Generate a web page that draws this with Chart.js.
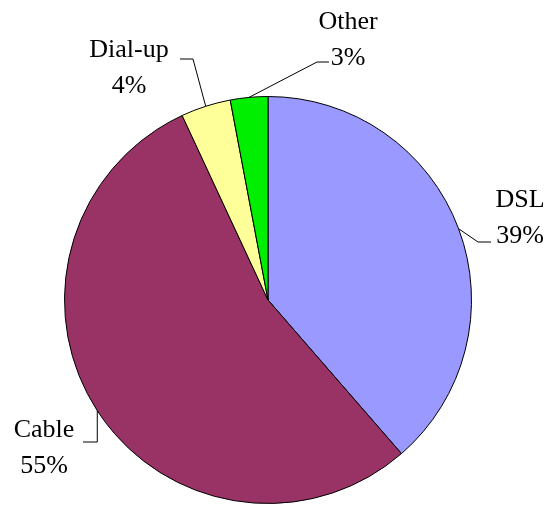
<!DOCTYPE html>
<html>
<head>
<meta charset="utf-8">
<script src="https://cdn.jsdelivr.net/npm/chart.js@4.4.0/dist/chart.umd.min.js"></script>
<style>
  html, body { margin: 0; padding: 0; background: #fff; }
  #wrap { width: 551px; height: 506px; }
</style>
</head>
<body>
<div id="wrap"><canvas id="share_chart" width="551" height="506"></canvas></div>
<script>
const categories = ['DSL', 'Cable', 'Dial-up', 'Other'];
const shares = [39, 55, 4, 3];
const sliceColors = ['#9999ff', '#993366', '#ffff99', '#00ee00'];

// where each callout text sits, and the bend of its leader line
const callouts = {
	'DSL':     { x: 520, y: 207, bend: [478, 242], end: [491, 242] },
	'Cable':   { x: 44,  y: 437, bend: [null, 442], end: [83, 442] },
	'Dial-up': { x: 129, y: 57,  bend: [193, 59], end: [180, 59] },
	'Other':   { x: 348, y: 29,  bend: [317, 62], end: [329, 62] }
};

const calloutPlugin = {
	id: 'callouts',
	afterDatasetsDraw(chart) {
		const ctx = chart.ctx;
		const arcs = chart.getDatasetMeta(0).data;
		ctx.save();
		ctx.font = '26px "Liberation Serif", "Times New Roman", serif';
		ctx.fillStyle = '#000';
		ctx.strokeStyle = '#000';
		ctx.lineWidth = 1;
		ctx.textAlign = 'center';
		ctx.textBaseline = 'alphabetic';
		arcs.forEach(function(arc, i) {
			const name = categories[i];
			const c = callouts[name];
			const mid = (arc.startAngle + arc.endAngle) / 2;
			const ex = arc.x + Math.cos(mid) * arc.outerRadius;
			const ey = arc.y + Math.sin(mid) * arc.outerRadius;
			const bx = c.bend[0] === null ? ex : c.bend[0];
			const by = c.bend[1];
			ctx.beginPath();
			ctx.moveTo(ex, ey);
			ctx.lineTo(bx, by);
			ctx.lineTo(c.end[0], c.end[1]);
			ctx.stroke();
			ctx.fillText(name, c.x, c.y);
			ctx.fillText(shares[i] + '%', c.x, c.y + 36);
		});
		ctx.restore();
	}
};

const config = {
	type: 'pie',
	data: {
		labels: categories,
		datasets: [{
			data: shares,
			backgroundColor: sliceColors,
			borderColor: '#000',
			borderWidth: 1
		}]
	},
	options: {
		responsive: false,
		animation: false,
		layout: {
			padding: { top: 96, bottom: 2, left: 64, right: 79 }
		},
		plugins: {
			legend: { display: false },
			tooltip: { enabled: false }
		}
	},
	plugins: [calloutPlugin]
};

var cv = document.getElementById('share_chart');
var chart = new Chart(cv.getContext('2d'), config);
</script>
</body>
</html>
